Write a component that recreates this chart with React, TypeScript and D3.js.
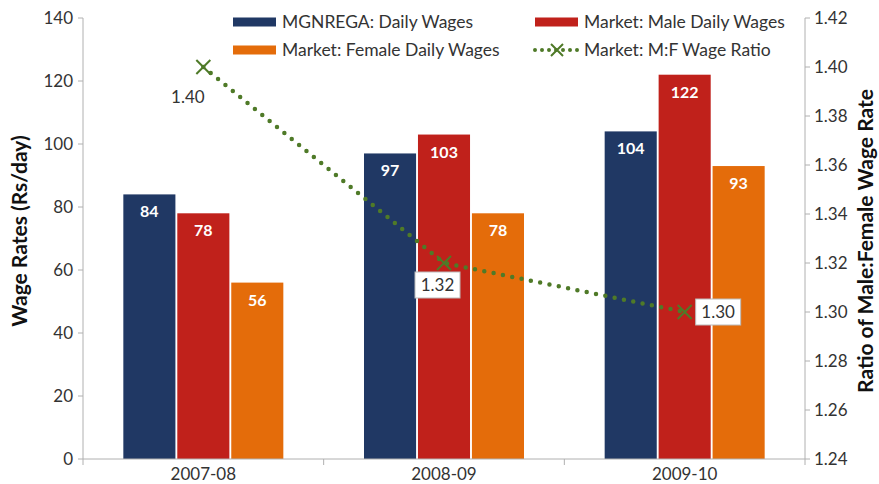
import React from "react";
import * as d3 from "d3";

const categories = ["2007-08", "2008-09", "2009-10"];
const seriesNames = ["MGNREGA: Daily Wages", "Market: Male Daily Wages", "Market: Female Daily Wages"];
const mgnrega = [84, 97, 104];
const maleWages = [78, 103, 122];
const femaleWages = [56, 78, 93];
const ratio = [1.40, 1.32, 1.30];
const ratioLabels = ["1.40", "1.32", "1.30"];
const leftTicks = [0, 20, 40, 60, 80, 100, 120, 140];
const rightTicks = [1.24, 1.26, 1.28, 1.30, 1.32, 1.34, 1.36, 1.38, 1.40, 1.42];
const lineName = "Market: M:F Wage Ratio";

const colors = ["#203864", "#c0211b", "#e46c0a"];
const green = "#4f7a28";
const FONT = "Lato, 'Open Sans', sans-serif";

export default function App() {
  const W = 879, H = 484;
  const left = 83, right = 805, top = 18, bottom = 459;
  const x = d3.scaleBand<string>().domain(categories).range([left, right]);
  const inner = d3.scaleBand<number>().domain([0, 1, 2]).range([0, 160]).paddingInner(0.035);
  const y = d3.scaleLinear().domain([0, 140]).range([bottom, top]);
  const y2 = d3.scaleLinear().domain([1.24, 1.42]).range([bottom, top]);
  const series = [mgnrega, maleWages, femaleWages];
  const bw = x.bandwidth();
  const groupOffset = (bw - 160) / 2;
  const cx = (c: string) => (x(c) as number) + bw / 2;
  const line = d3.line<number>().x((_, i) => cx(categories[i])).y((v) => y2(v));
  const xMark = (px: number, py: number, s = 7) =>
    `M${px - s},${py - s}L${px + s},${py + s}M${px - s},${py + s}L${px + s},${py - s}`;

  // box offsets relative to marker (left, top of label area)
  const labelPos = [
    { dx: -38, dy: 17, box: false },
    { dx: -29, dy: 9, box: true },
    { dx: 11, dy: -13, box: true },
  ];

  const tickFs = 17;

  return (
    <svg width={W} height={H} style={{ display: "block", position: "absolute", left: 0, top: 0 }} fontFamily={FONT}>
      <rect width={W} height={H} fill="#fff" />
      {/* bars */}
      {categories.map((c, ci) =>
        series.map((s, si) => {
          const bx = (x(c) as number) + groupOffset + (inner(si) as number);
          return (
            <g key={c + si}>
              <rect x={bx} y={y(s[ci])} width={inner.bandwidth()} height={bottom - y(s[ci])} fill={colors[si]} />
              <text x={bx + inner.bandwidth() / 2} y={y(s[ci]) + 23} textAnchor="middle" fill="#fff" fontSize={16} fontWeight={700}>
                {s[ci]}
              </text>
            </g>
          );
        })
      )}
      {/* left axis */}
      <line x1={left} x2={left} y1={top} y2={bottom} stroke="#b0b0b0" />
      {leftTicks.map((t) => (
        <g key={t}>
          <line x1={left - 5} x2={left} y1={y(t)} y2={y(t)} stroke="#b0b0b0" />
          <text x={left - 10} y={y(t) + 6} textAnchor="end" fontSize={tickFs} fill="#333">{t}</text>
        </g>
      ))}
      {/* right axis */}
      <line x1={right} x2={right} y1={top} y2={bottom} stroke="#b0b0b0" />
      {rightTicks.map((t) => (
        <g key={t}>
          <line x1={right} x2={right + 5} y1={y2(t)} y2={y2(t)} stroke="#b0b0b0" />
          <text x={right + 9} y={y2(t) + 6} textAnchor="start" fontSize={tickFs} fill="#333">{t.toFixed(2)}</text>
        </g>
      ))}
      {/* x axis */}
      <line x1={left} x2={right} y1={bottom} y2={bottom} stroke="#b0b0b0" />
      {categories.map((c, i) => (
        <g key={c}>
          <line x1={x(c) as number} x2={x(c) as number} y1={bottom} y2={bottom + 6} stroke="#b0b0b0" />
          {i === categories.length - 1 && (
            <line x1={right} x2={right} y1={bottom} y2={bottom + 6} stroke="#b0b0b0" />
          )}
          <text x={cx(c)} y={bottom + 21} textAnchor="middle" fontSize={tickFs} fill="#333">{c}</text>
        </g>
      ))}
      {/* axis titles */}
      <text transform={`translate(27,231) rotate(-90)`} textAnchor="middle" fontSize={21} fontWeight={700} fill="#111">
        Wage Rates (Rs/day)
      </text>
      <text transform={`translate(873,241) rotate(-90)`} textAnchor="middle" fontSize={21} fontWeight={700} fill="#111">
        Ratio of Male:Female Wage Rate
      </text>
      {/* ratio line */}
      <path d={line(ratio) || ""} fill="none" stroke={green} strokeWidth={4.5} strokeDasharray="0 9.5" strokeLinecap="round" />
      {ratio.map((r, i) => {
        const px = cx(categories[i]);
        const py = y2(r);
        const lp = labelPos[i];
        const tx = px + lp.dx;
        const ty = py + lp.dy;
        return (
          <g key={i}>
            <path d={xMark(px, py)} stroke={green} strokeWidth={2} fill="none" />
            {lp.box && <rect x={tx} y={ty} width={45} height={26} fill="#fff" stroke="#bbb" />}
            <text x={tx + 22.5} y={ty + 19} textAnchor="middle" fontSize={tickFs} fill="#333">{ratioLabels[i]}</text>
          </g>
        );
      })}
      {/* legend */}
      {[
        { k: 0, lx: 233, ly: 22 },
        { k: 1, lx: 535, ly: 22 },
        { k: 2, lx: 233, ly: 50 },
      ].map(({ k, lx, ly }) => (
        <g key={k}>
          <rect x={lx} y={ly - 4.5} width={43} height={9} fill={colors[k]} />
          <text x={lx + 49} y={ly + 6} fontSize={17.5} fill="#333">{seriesNames[k]}</text>
        </g>
      ))}
      <g>
        <line x1={535} x2={578} y1={50} y2={50} stroke={green} strokeWidth={4} strokeDasharray="0 7" strokeLinecap="round" />
        <path d={xMark(557, 50, 6)} stroke={green} strokeWidth={2} fill="none" />
        <text x={584} y={56} fontSize={17.5} fill="#333">{lineName}</text>
      </g>
    </svg>
  );
}
